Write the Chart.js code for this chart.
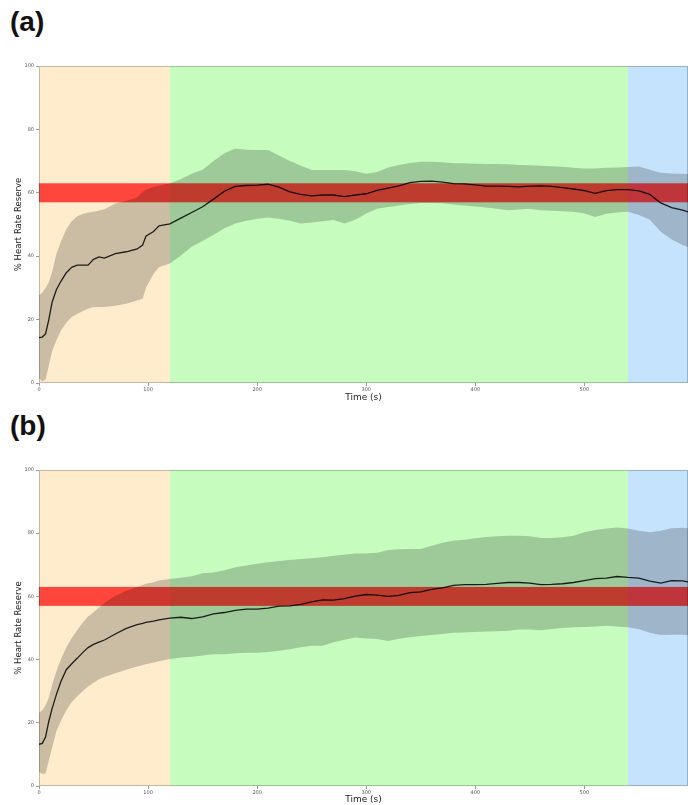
<!DOCTYPE html>
<html>
<head>
<meta charset="utf-8">
<script src="https://cdn.jsdelivr.net/npm/chart.js@4.4.1/dist/chart.umd.min.js"></script>
<style>
    body { margin: 0; background: #fff; width: 688px; height: 805px; overflow: hidden; position: relative; }
    .panel-label { position: absolute; left: 10px; font: bold 28px "Liberation Sans", Arial, sans-serif; color: #111; }
    .panel { position: absolute; left: 0; width: 688px; }
</style>
</head>
<body>
<div class="panel-label" style="top:6px">(a)</div>
<div class="panel" style="top:56px;height:350px"><canvas id="hrr-a"></canvas></div>
<div class="panel-label" style="top:410px">(b)</div>
<div class="panel" style="top:460px;height:345px"><canvas id="hrr-b"></canvas></div>
<script>
// Sample times (s)
const times = [0, 3, 6, 9, 12, 16, 20, 25, 30, 35, 40, 45, 50, 55, 60, 70, 80, 90, 95, 98, 105, 110, 120,
    130, 140, 150, 160, 170, 180, 190, 200, 210, 220, 230, 240, 250, 260, 270, 280, 290, 300, 310, 320,
    330, 340, 350, 360, 370, 380, 390, 400, 410, 420, 430, 440, 450, 460, 470, 480, 490, 500, 510, 520,
    530, 540, 550, 560, 570, 580, 590, 595];

// Session (a): mean %HRR and the +/- SD envelope
const meanA = [14.3, 14.5, 15.5, 20, 25.5, 29.5, 32, 34.8, 36.5, 37.2, 37.2, 37.2, 39, 39.8, 39.4,
    40.8, 41.4, 42.3, 43.5, 46.3, 47.8, 49.6, 50.2,
    52, 53.8, 55.6, 58, 60.5, 62, 62.3, 62.4, 62.7, 61.8,
    60.3, 59.5, 59, 59.3, 59.3, 58.8, 59.3, 59.7, 60.8, 61.5,
    62.2, 63.2, 63.6, 63.7, 63.4, 62.9, 62.8, 62.5, 62.1, 62.1,
    62, 61.9, 62.1, 62.2, 62, 61.6, 61.2, 60.7, 59.8, 60.7,
    61, 61, 60.6, 59.5, 56.8, 55.3, 54.5,
    54];
const upperA = [27.7, 28.5, 30, 31.8, 35, 40.8, 44.5, 48.5, 51, 52.6, 53.3, 53.8, 54, 54.4, 54.8,
    56.6, 57.5, 58.5, 60.3, 61, 61.8, 62.2, 63,
    64.3, 66, 67.3, 70, 72.5, 74, 73.6, 73.5, 73.5, 71.8,
    70, 68.5, 67.2, 67.2, 67.2, 67.2, 66.8, 66, 66.6, 68,
    68.8, 69.4, 69.8, 69.8, 69.6, 69.3, 69.3, 69.2, 69.1, 69.1,
    69, 68.8, 68.7, 68.5, 68.4, 68.2, 67.9, 67.7, 67.7, 67.9,
    68, 68.1, 68.3, 67.3, 66.3, 66.1, 66,
    65.9];
const lowerA = [1.5, 0.5, 1, 5.5, 10, 13.5, 16.5, 19, 20.8, 21.8, 22.6, 23.4, 24, 24, 24,
    24.4, 25, 26, 26.6, 30, 34.5, 36.5, 37.7,
    40.2, 43, 44.8, 46.8, 48.8, 50.3, 51.2, 51.8, 52.2, 51.8,
    51.2, 50.3, 50.6, 51, 51.4, 50.3, 51.5, 53.5, 55, 55.5,
    56, 56.5, 56.8, 56.8, 56.7, 56.3, 56, 55.7, 55.4, 55,
    54.5, 54.7, 55, 54.5, 54.3, 54.2, 54, 53.5, 52.4, 53.4,
    53.8, 54, 53, 51.5, 47.7, 45.3, 43.5,
    42.9];

// Session (b)
const meanB = [13.2, 13.5, 15.5, 20.5, 24.5, 29, 33, 36.8, 38.7, 40.4, 42.2, 43.8, 44.8, 45.5, 46.2,
    48.1, 49.9, 51.1, 51.5, 51.8, 52.2, 52.6, 53.1,
    53.4, 53, 53.5, 54.5, 54.9, 55.6, 56, 56, 56.3, 56.9,
    57, 57.5, 58.3, 58.9, 58.8, 59.3, 60.1, 60.6, 60.4, 60,
    60.3, 61.2, 61.4, 62.2, 62.7, 63.5, 63.7, 63.7, 63.8, 64.1,
    64.4, 64.4, 64.2, 63.7, 63.8, 64, 64.4, 65, 65.6, 65.8,
    66.3, 66, 65.8, 64.8, 64.2, 65, 64.9,
    64.6];
const upperB = [23.2, 24, 25.5, 28, 32, 36.4, 40, 43.8, 46.8, 49.4, 51.7, 53.6, 55, 56.5, 58,
    60.2, 61.8, 63, 63.6, 64, 64.5, 65, 65.5,
    65.9, 66.4, 67.3, 67.6, 68.3, 69.2, 69.8, 70.3, 70.8, 71.2,
    71.5, 71.8, 72.1, 72.4, 72.9, 73.2, 73.6, 73.6, 73.8, 74.7,
    74.9, 75, 75, 76, 77, 77.6, 77.9, 78.4, 78.8, 79,
    79.2, 79.2, 79, 78.5, 78.5, 78.7, 79.2, 80.3, 81, 81.5,
    81.8, 81.5, 80.8, 80.3, 80.8, 81.6, 81.7,
    81.6];
const lowerB = [4.5, 3.8, 4, 8, 12, 17.4, 20.5, 24, 26.5, 28.4, 30, 31.5, 32.7, 33.8, 34.5,
    35.7, 36.8, 37.8, 38.2, 38.5, 39.1, 39.5, 40.2,
    40.7, 40.9, 41.3, 41.7, 41.7, 42, 42.2, 42.2, 42.4, 42.8,
    43.3, 43.9, 44.4, 44.4, 45.5, 46.3, 47, 46.7, 46.5, 45.9,
    46.6, 47.1, 47.5, 47.8, 48.1, 48.5, 48.6, 48.7, 48.9, 49,
    49.1, 49.5, 49.5, 49.3, 49.7, 50, 50.2, 50.3, 50.5, 50.7,
    50.5, 50.2, 49.6, 48.5, 47.8, 47.9, 47.9,
    47.8];

// Exercise phases: warm-up, main set, cool-down (s)
const phaseEdges = [0, 120, 540, 595];
const phaseColors = ['rgb(254, 236, 205)', 'rgb(198, 252, 190)', 'rgb(198, 227, 253)'];
// Target %HRR zone
const targetZone = [57, 63];

const yTicks = [0, 20, 40, 60, 80, 100];
const xTicks = [0, 100, 200, 300, 400, 500];

const toPoints = vals => times.map((t, i) => ({ x: t, y: vals[i] }));

// Shaded phases and the target band, painted under the datasets
const phasePlugin = {
    id: 'phases',
    beforeDatasetsDraw(chart) {
        const { ctx, chartArea: area, scales: { x, y } } = chart;
        ctx.save();
        ctx.beginPath();
        ctx.rect(area.left, area.top, area.width, area.height);
        ctx.clip();
        for (let i = 0; i < phaseColors.length; i++) {
            const x0 = x.getPixelForValue(phaseEdges[i]);
            const x1 = x.getPixelForValue(phaseEdges[i + 1]);
            ctx.fillStyle = phaseColors[i];
            ctx.fillRect(x0, area.top, x1 - x0, area.height);
        }
        const yTop = y.getPixelForValue(targetZone[1]);
        const yBot = y.getPixelForValue(targetZone[0]);
        ctx.fillStyle = 'rgba(255, 0, 0, 0.7)';
        ctx.fillRect(area.left, yTop, area.width, yBot - yTop);
        ctx.restore();
    },
    afterDraw(chart) {
        const { ctx, chartArea: area } = chart;
        ctx.save();
        ctx.strokeStyle = 'rgba(0, 0, 0, 0.22)';
        ctx.lineWidth = 1;
        ctx.strokeRect(area.left + 0.5, area.top + 0.5, area.width - 1, area.height - 1);
        ctx.restore();
    }
};

function makeChart(id, mean, upper, lower, xAxisHeight, titlePad) {
    const ctx = document.getElementById(id).getContext('2d');
    return new Chart(ctx, {
        type: 'line',
        data: {
            datasets: [
                {
                    data: toPoints(mean),
                    borderColor: 'rgba(0, 0, 0, 0.85)',
                    borderWidth: 1.3,
                    pointRadius: 0,
                    fill: false
                },
                {
                    data: toPoints(upper),
                    borderWidth: 0,
                    pointRadius: 0,
                    fill: false
                },
                {
                    data: toPoints(lower),
                    borderWidth: 0,
                    pointRadius: 0,
                    backgroundColor: 'rgba(0, 0, 0, 0.2)',
                    fill: '-1'
                }
            ]
        },
        options: {
            responsive: true,
            maintainAspectRatio: false,
            animation: false,
            layout: { padding: { top: 10, left: 0, right: 0, bottom: 0 } },
            plugins: {
                legend: { display: false },
                tooltip: { enabled: false }
            },
            scales: {
                x: {
                    type: 'linear',
                    min: 0,
                    max: phaseEdges[phaseEdges.length - 1],
                    afterFit: s => { s.height = xAxisHeight; },
                    afterBuildTicks: s => { s.ticks = xTicks.map(v => ({ value: v })); },
                    ticks: { font: { size: 5, family: 'DejaVu Sans' }, color: '#555', padding: 1, maxRotation: 0 },
                    grid: { drawOnChartArea: false, tickLength: 3, color: '#999' },
                    border: { display: false },
                    title: {
                        display: true,
                        text: 'Time (s)',
                        font: { size: 9, family: 'DejaVu Sans' },
                        color: '#222',
                        padding: { top: 0, bottom: titlePad }
                    }
                },
                y: {
                    min: 0,
                    max: 100,
                    afterFit: s => { s.width = 39; },
                    afterBuildTicks: s => { s.ticks = yTicks.map(v => ({ value: v })); },
                    ticks: { font: { size: 5, family: 'DejaVu Sans' }, color: '#555', padding: 2 },
                    grid: { drawOnChartArea: false, tickLength: 3, color: '#999' },
                    border: { display: false },
                    title: {
                        display: true,
                        text: '% Heart Rate Reserve',
                        font: { size: 8.5, family: 'DejaVu Sans' },
                        color: '#222',
                        padding: { top: 14, bottom: 0 }
                    }
                }
            }
        },
        plugins: [phasePlugin]
    });
}

makeChart('hrr-a', meanA, upperA, lowerA, 23, 2.6);
makeChart('hrr-b', meanB, upperB, lowerB, 19, 0);
</script>
</body>
</html>
